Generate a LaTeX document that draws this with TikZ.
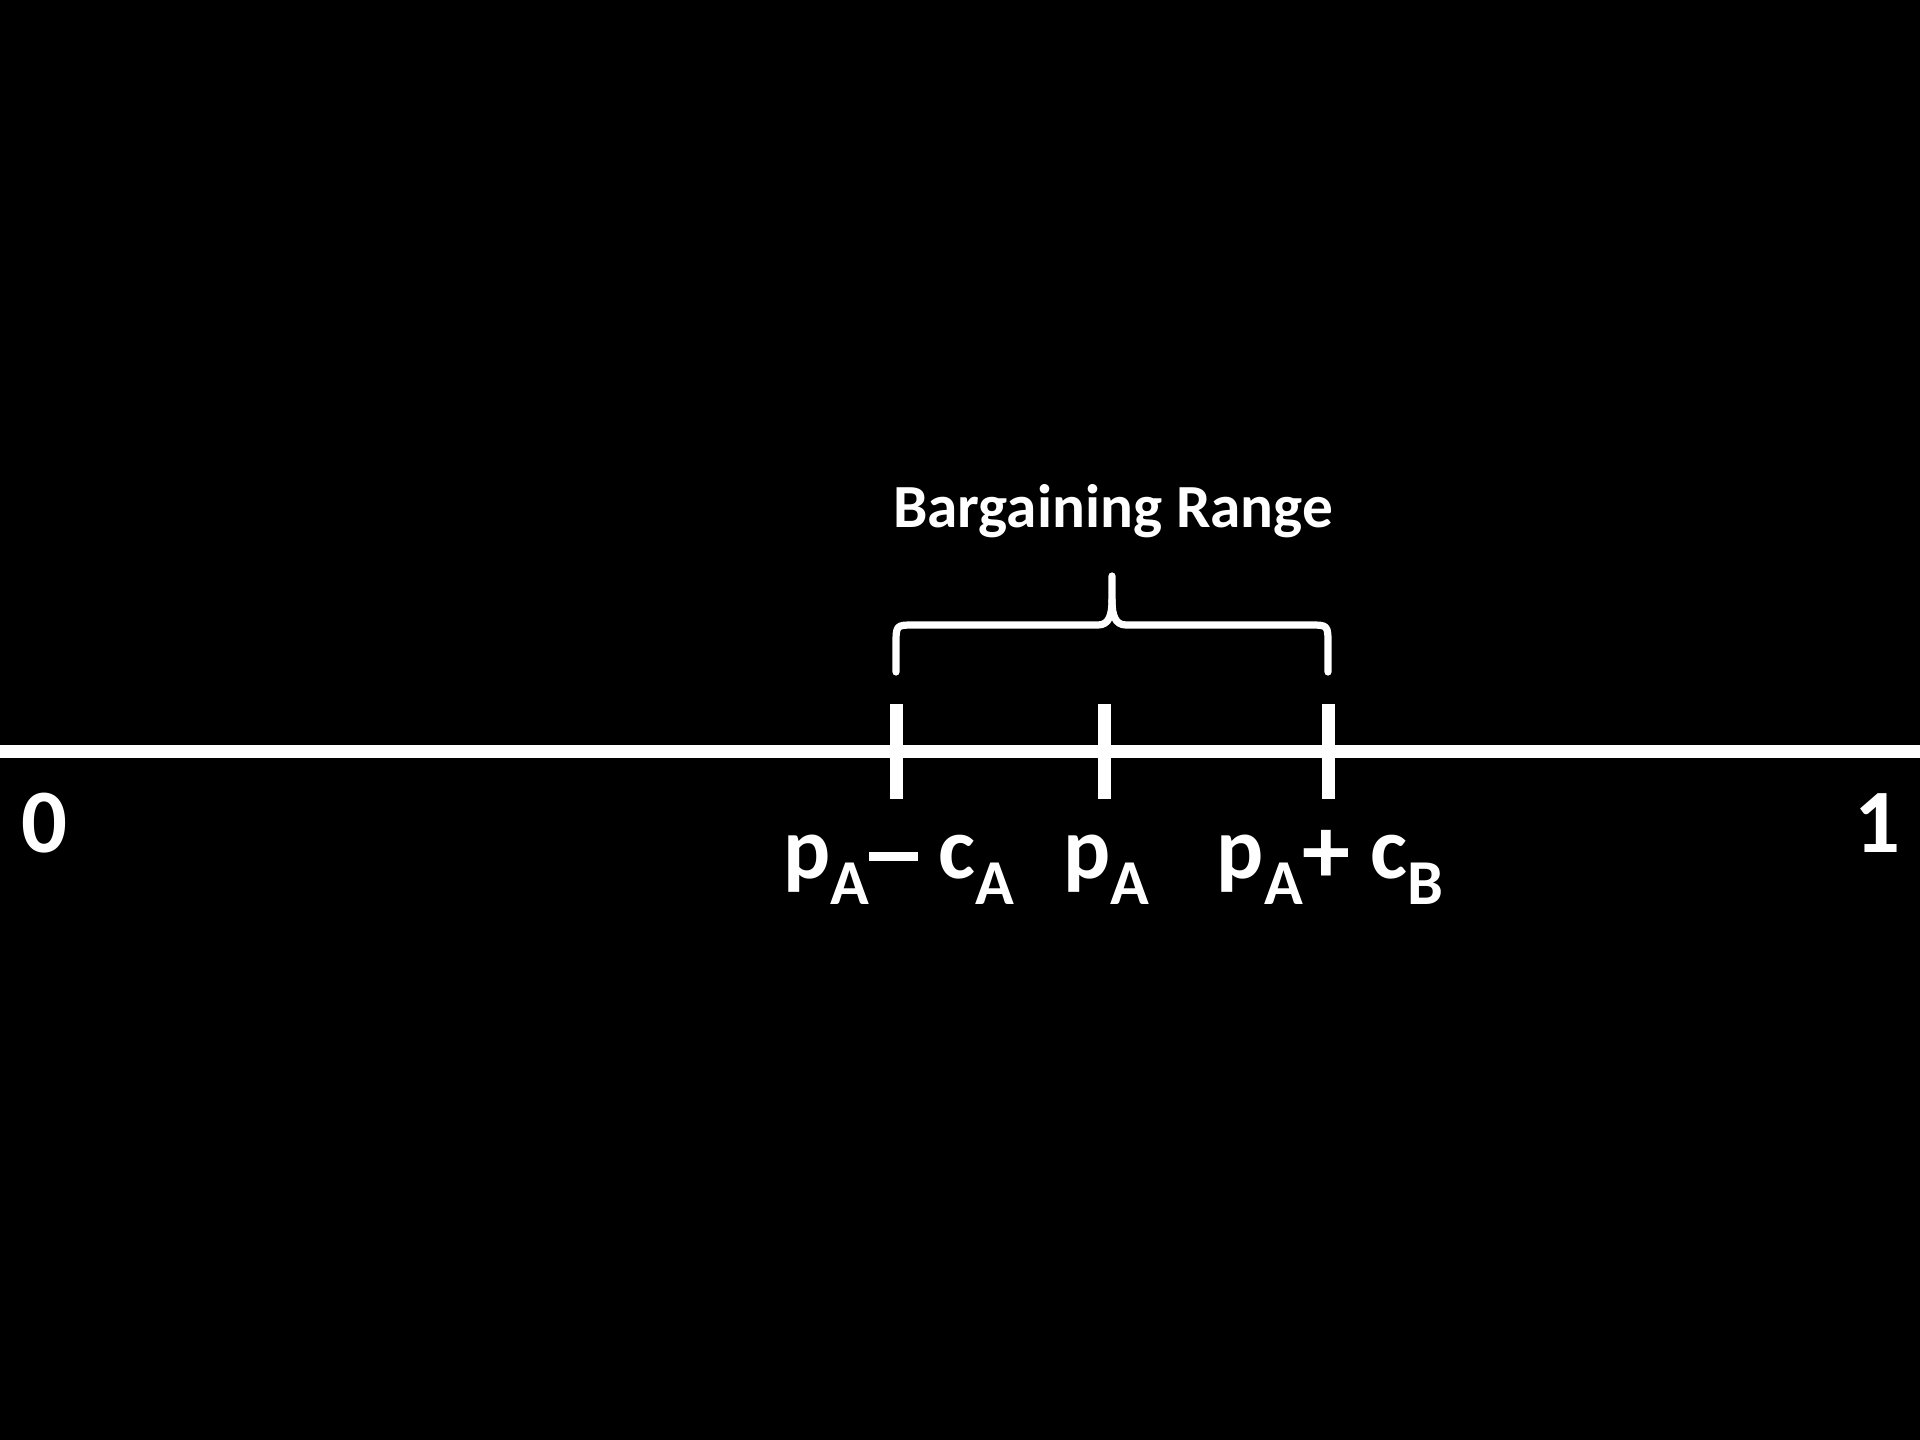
\documentclass[tikz,border=0pt]{standalone}
\usepackage{fontspec}
\setmainfont{Carlito}
\newcommand\lsub[1]{\raisebox{-10pt}{\fontsize{24}{24}\selectfont #1}}
\newcommand\lminus{\rule[6.4pt]{18.4pt}{3.4pt}}
\newcommand\lplus{\raisebox{-2pt}{\fontsize{36}{36}\selectfont +}}
\begin{document}
\begin{tikzpicture}[x=0.375pt,y=-0.375pt,
  axis/.style={white,line width=4.875pt},
  tickmark/.style={white,line width=4.875pt},
  bracepath/.style={white,line width=2.7pt,line cap=round,line join=round},
  lbl/.style={text=white,font=\fontsize{33}{33}\selectfont\bfseries,inner sep=0pt,anchor=base},
  endlbl/.style={text=white,font=\fontsize{34}{34}\selectfont\bfseries,inner sep=0pt,anchor=base},
  title/.style={text=white,font=\fontsize{23}{23}\selectfont\bfseries,inner sep=0pt,anchor=base}]
\fill[black] (0,0) rectangle (1920,1440);
\useasboundingbox (0,0) rectangle (1920,1440);
% axis
\coordinate (L) at (0,751.5);
\coordinate (R) at (1920,751.5);
\draw[axis] (L) -- (R);
% ticks
\coordinate (t1a) at (896,704); \coordinate (t1b) at (896,799);
\coordinate (t2a) at (1104,704); \coordinate (t2b) at (1104,799);
\coordinate (t3a) at (1328,704); \coordinate (t3b) at (1328,799);
\draw[tickmark] (t1a) -- (t1b);
\draw[tickmark] (t2a) -- (t2b);
\draw[tickmark] (t3a) -- (t3b);
% brace
\draw[bracepath] (896,672) -- (896,645) .. controls (896,625) .. (914,625)
  -- (1098,625) .. controls (1109,625) and (1112,615) .. (1112,600) -- (1112,576);
\draw[bracepath] (1112,600) .. controls (1112,615) and (1115,625) .. (1126,625)
  -- (1310,625) .. controls (1328,625) .. (1328,645) -- (1328,672);
% labels
\node[title] (br) at (1113,528) {Bargaining Range};
\node[endlbl] (zero) at (44,852) {0};
\node[endlbl] (one) at (1877.5,852) {1};
\node[lbl] (l1) at (898.5,878) {p\lsub{A}\lminus\ c\lsub{A}};
\node[lbl] (l2) at (1106.5,878) {p\lsub{A}};
\node[lbl] (l3) at (1330,878) {p\lsub{A}\lplus\ c\lsub{B}};
\end{tikzpicture}
\end{document}
